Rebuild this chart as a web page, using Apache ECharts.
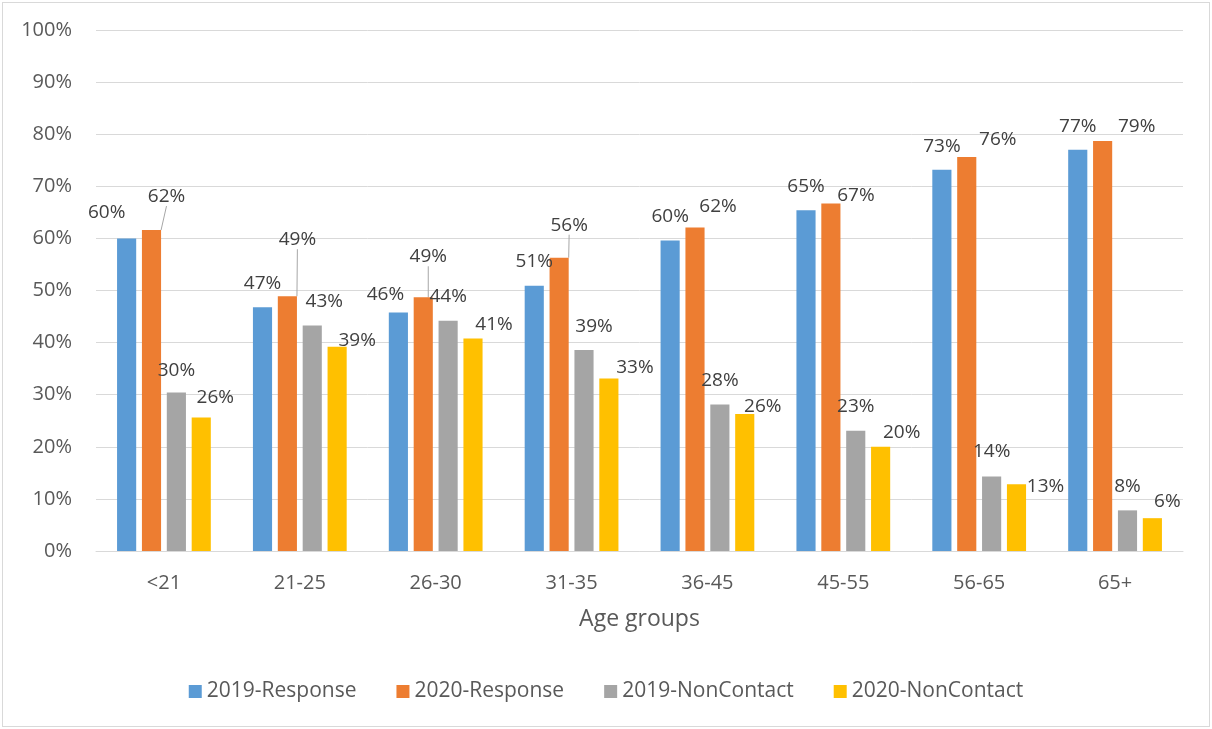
<!DOCTYPE html>
<html>
<head>
<meta charset="utf-8">
<title>Response and non-contact rates by age group</title>
<script src="https://cdn.jsdelivr.net/npm/echarts@6/dist/echarts.min.js"></script>
<style>
  html, body { margin: 0; padding: 0; background: #ffffff; }
  #frame { position: absolute; left: 2px; top: 2px; width: 1206px; height: 723px; border: 1px solid #D9D9D9; }
  #chart { position: absolute; left: 0; top: 0; width: 1212px; height: 729px; }
</style>
</head>
<body>
<div id="frame"></div>
<div id="chart"></div>
<script>
// Age groups on the category axis
const ageGroups = ['<21', '21-25', '26-30', '31-35', '36-45', '45-55', '56-65', '65+'];

// Rates in percent, one array per series
const response2019   = [60.0, 46.8, 45.8, 50.9, 59.6, 65.4, 73.2, 77.0];
const response2020   = [61.6, 48.9, 48.7, 56.3, 62.1, 66.7, 75.6, 78.7];
const nonContact2019 = [30.4, 43.3, 44.2, 38.6, 28.1, 23.1, 14.3, 7.8];
const nonContact2020 = [25.6, 39.2, 40.8, 33.1, 26.3, 20.0, 12.8, 6.3];

const seriesNames  = ['2019-Response', '2020-Response', '2019-NonContact', '2020-NonContact'];
const seriesColors = ['#5B9BD5', '#ED7D31', '#A5A5A5', '#FFC000'];

// Y-axis ticks
const yTicks = [0, 10, 20, 30, 40, 50, 60, 70, 80, 90, 100];

// Hand-placed data label nudges [dx, dy] per series and age group
const labelNudges = [
  [[-20, -2], [0, 0], [-13, 6], [0, -1], [0, 0], [0, 0], [0, 0], [0, 0]],
  [[15, -10], [10, -33], [5, -17], [10, -9], [23, 3], [25, 16], [31, 6], [34, 9]],
  [[0, 1], [12, 0], [0, -1], [10, 0], [0, -1], [0, -1], [0, -1], [0, 0]],
  [[14, 3], [20, 17], [21, 10], [26, 13], [18, 16], [21, 9], [29, 26], [15, 7]]
];
// Labels that keep a leader line back to their bar: [seriesIndex, dataIndex]
const leaderLines = [[1, 0], [1, 1], [1, 2], [1, 3]];

const seriesValues = [response2019, response2020, nonContact2019, nonContact2020];

function hasLeader(s, i) {
  return leaderLines.some(function (p) { return p[0] === s && p[1] === i; });
}

const FONT = '"Open Sans", "DejaVu Sans", sans-serif';

const chart = echarts.init(document.getElementById('chart'), null, { renderer: 'canvas' });

const series = seriesValues.map(function (vals, s) {
  return {
    name: seriesNames[s],
    type: 'bar',
    barGap: '30%',
    barCategoryGap: '31%',
    itemStyle: { color: seriesColors[s] },
    data: vals.map(function (v, i) {
      if (hasLeader(s, i)) {
        return { value: v, labelLine: { show: true, lineStyle: { color: '#A6A6A6', width: 1 } } };
      }
      return v;
    }),
    label: {
      show: true,
      position: 'top',
      distance: 14,
      color: '#404040',
      fontFamily: FONT,
      fontSize: 19,
      formatter: function (p) { return Math.round(p.value) + '%'; }
    },
    labelLine: { show: false },
    labelLayout: function (p) {
      const n = labelNudges[p.seriesIndex][p.dataIndex];
      return { dx: n[0], dy: n[1] };
    }
  };
});

chart.setOption({
  animation: false,
  backgroundColor: 'transparent',
  textStyle: { fontFamily: FONT },
  grid: { left: 96, right: 29, top: 30, bottom: 178, containLabel: false },
  legend: {
    data: seriesNames,
    top: 676,
    left: 'center',
    itemWidth: 13,
    itemHeight: 13,
    itemGap: 40,
    icon: 'rect',
    textStyle: { color: '#595959', fontSize: 21, fontFamily: FONT }
  },
  xAxis: {
    type: 'category',
    data: ageGroups,
    name: 'Age groups',
    nameLocation: 'middle',
    nameGap: 57,
    nameTextStyle: { color: '#595959', fontSize: 23, fontFamily: FONT },
    axisLine: { show: true, lineStyle: { color: '#D9D9D9', width: 1 } },
    axisTick: { show: false },
    axisLabel: { color: '#595959', fontSize: 20, margin: 22, fontFamily: FONT }
  },
  yAxis: {
    type: 'value',
    min: yTicks[0],
    max: yTicks[yTicks.length - 1],
    interval: yTicks[1] - yTicks[0],
    axisLine: { show: false },
    axisTick: { show: false },
    splitLine: { lineStyle: { color: '#D9D9D9', width: 1 } },
    axisLabel: { color: '#595959', fontSize: 20, margin: 24, fontFamily: FONT, formatter: '{value}%' }
  },
  series: series
});
</script>
</body>
</html>
